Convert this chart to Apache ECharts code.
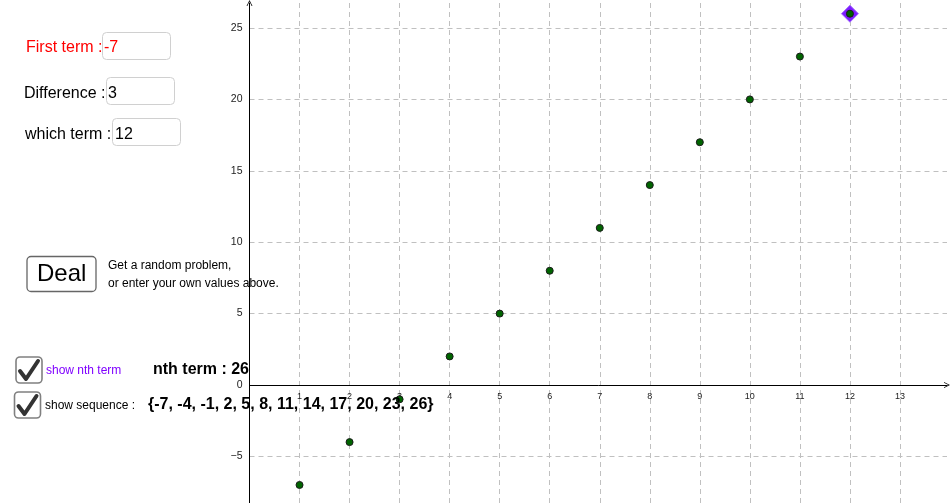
<!DOCTYPE html>
<html>
<head>
<meta charset="utf-8">
<script src="https://cdn.jsdelivr.net/npm/echarts@6/dist/echarts.min.js"></script>
<style>
html,body{margin:0;padding:0;background:#fff;}
#c{width:951px;height:503px;}
</style>
</head>
<body>
<div id="c"></div>
<script>
// ---- data ----
var firstTerm = -7;
var difference = 3;
var whichTerm = 12;
var termIndex = [1, 2, 3, 4, 5, 6, 7, 8, 9, 10, 11, 12];
var termValues = [-7, -4, -1, 2, 5, 8, 11, 14, 17, 20, 23, 26];
var xTickValues = [1, 2, 3, 4, 5, 6, 7, 8, 9, 10, 11, 12, 13];
var xTickLabels = ['1', '2', '3', '4', '5', '6', '7', '8', '9', '10', '11', '12', '13'];
var yTickValues = [-5, 0, 5, 10, 15, 20, 25];
var yTickLabels = ['\u22125', '0', '5', '10', '15', '20', '25'];

var FONT = 'Liberation Sans, Arial, sans-serif';
var points = termIndex.map(function (n, i) { return [n, termValues[i]]; });
var highlight = [[termIndex[whichTerm - 1], termValues[whichTerm - 1]]];
var nthValue = termValues[whichTerm - 1];
var seqText = '{' + termValues.join(', ') + '}';

function txt(x, y, text, size, color, weight) {
  return {
    type: 'text', z: 100,
    style: {
      x: x, y: y, text: text, fill: color,
      font: (weight || 'normal') + ' ' + size + 'px ' + FONT,
      textAlign: 'left', textVerticalAlign: 'middle', align: 'left', verticalAlign: 'middle'
    }
  };
}
function box(x, y, w, h, stroke, lw) {
  return {
    type: 'rect', z: 99,
    shape: { x: x, y: y, width: w, height: h, r: 4 },
    style: { fill: '#fff', stroke: stroke, lineWidth: lw }
  };
}
function check(x, y) {
  return {
    type: 'polyline', z: 101,
    shape: { points: [[x + 4, y + 14], [x + 10, y + 22], [x + 22, y + 4]] },
    style: { stroke: '#333', lineWidth: 4, fill: null, lineJoin: 'round', lineCap: 'round' }
  };
}

var chevron = 'path://M0,10 L5,0 L10,10 L8.6,10 L5,2.6 L1.4,10 Z';
var XMAX = 13.94;

var chart = echarts.init(document.getElementById('c'));
chart.setOption({
  animation: false,
  backgroundColor: '#fff',
  grid: [
    { left: 249.5, right: 4, top: 3, bottom: -24.8, containLabel: false, outerBoundsMode: 'none' },
    { left: 249.5, right: 4, top: 3, bottom: 118, containLabel: false, outerBoundsMode: 'none' }
  ],
  xAxis: [
    {
      gridIndex: 0, type: 'value', min: 0, max: XMAX, interval: 1,
      axisLine: { show: false }, axisTick: { show: false }, axisLabel: { show: false },
      splitLine: { show: true, showMinLine: false, showMaxLine: false,
        lineStyle: { color: '#c0c0c0', type: [5, 4], width: 1 } }
    },
    {
      gridIndex: 1, type: 'value', min: 0, max: XMAX, interval: 1, position: 'bottom',
      axisLine: { show: true, onZero: false, lineStyle: { color: '#000', width: 1 },
        symbol: ['none', chevron], symbolSize: [7, 6] },
      axisTick: { show: false },
      axisLabel: {
        color: '#222', fontSize: 9, fontFamily: FONT, margin: 7,
        formatter: function (v) { var i = xTickValues.indexOf(v); return i >= 0 ? xTickLabels[i] : ''; }
      },
      splitLine: { show: false }
    }
  ],
  yAxis: [
    {
      gridIndex: 0, type: 'value', min: -10, max: 26.75, interval: 5,
      axisLine: { show: true, onZero: false, lineStyle: { color: '#000', width: 1 },
        symbol: ['none', chevron], symbolSize: [7, 6] },
      axisTick: { show: false },
      axisLabel: {
        color: '#222', fontSize: 10.5, fontFamily: FONT, margin: 7,
        formatter: function (v) { var i = yTickValues.indexOf(v); return i >= 0 ? yTickLabels[i] : ''; }
      },
      splitLine: { show: true, showMinLine: false, showMaxLine: false,
        lineStyle: { color: '#c0c0c0', type: [5, 4], width: 1 } }
    },
    {
      gridIndex: 1, type: 'value', min: 0, max: 26.75, show: false
    }
  ],
  series: [
    {
      type: 'scatter', xAxisIndex: 0, yAxisIndex: 0, data: highlight, symbol: 'diamond', symbolSize: 17, z: 2,
      itemStyle: { color: '#7d1cff', borderColor: '#a56bff', borderWidth: 1, opacity: 1 }, silent: true
    },
    {
      type: 'scatter', xAxisIndex: 0, yAxisIndex: 0, data: points, symbol: 'circle', symbolSize: 7, z: 3,
      itemStyle: { color: '#006400', borderColor: '#1b1b1b', borderWidth: 1, opacity: 1 }, silent: true
    }
  ],
  graphic: { elements: [
    txt(26, 48, 'First term :', 16, '#ff0000'),
    box(102.5, 32.5, 68, 27, '#d0d0d0', 1),
    txt(104, 48, String(firstTerm), 16, '#ff0000'),
    txt(24, 93.5, 'Difference :', 16, '#000'),
    box(106.5, 77.5, 68, 27, '#d0d0d0', 1),
    txt(108, 93.5, String(difference), 16, '#000'),
    txt(25, 134.5, 'which term :', 16, '#000'),
    box(112.5, 118.5, 68, 27, '#d0d0d0', 1),
    txt(115, 134.5, String(whichTerm), 16, '#000'),
    box(27, 256.5, 69, 35, '#666', 1.3),
    txt(37, 274, 'Deal', 24, '#000'),
    txt(108, 266, 'Get a random problem,', 12, '#000'),
    txt(108, 284, 'or enter your own values above.', 12, '#000'),
    box(16, 357, 26, 26, '#808080', 1.6),
    check(16, 357),
    txt(46, 370.5, 'show nth term', 12, '#7f00ff'),
    txt(153, 370, 'nth term : ' + nthValue, 16, '#000', 'bold'),
    box(14.5, 392, 26, 26, '#808080', 1.6),
    check(14.5, 392),
    txt(45, 405.5, 'show sequence :', 12, '#000'),
    txt(148, 405, seqText, 16, '#000', 'bold')
  ] }
});
</script>
</body>
</html>
